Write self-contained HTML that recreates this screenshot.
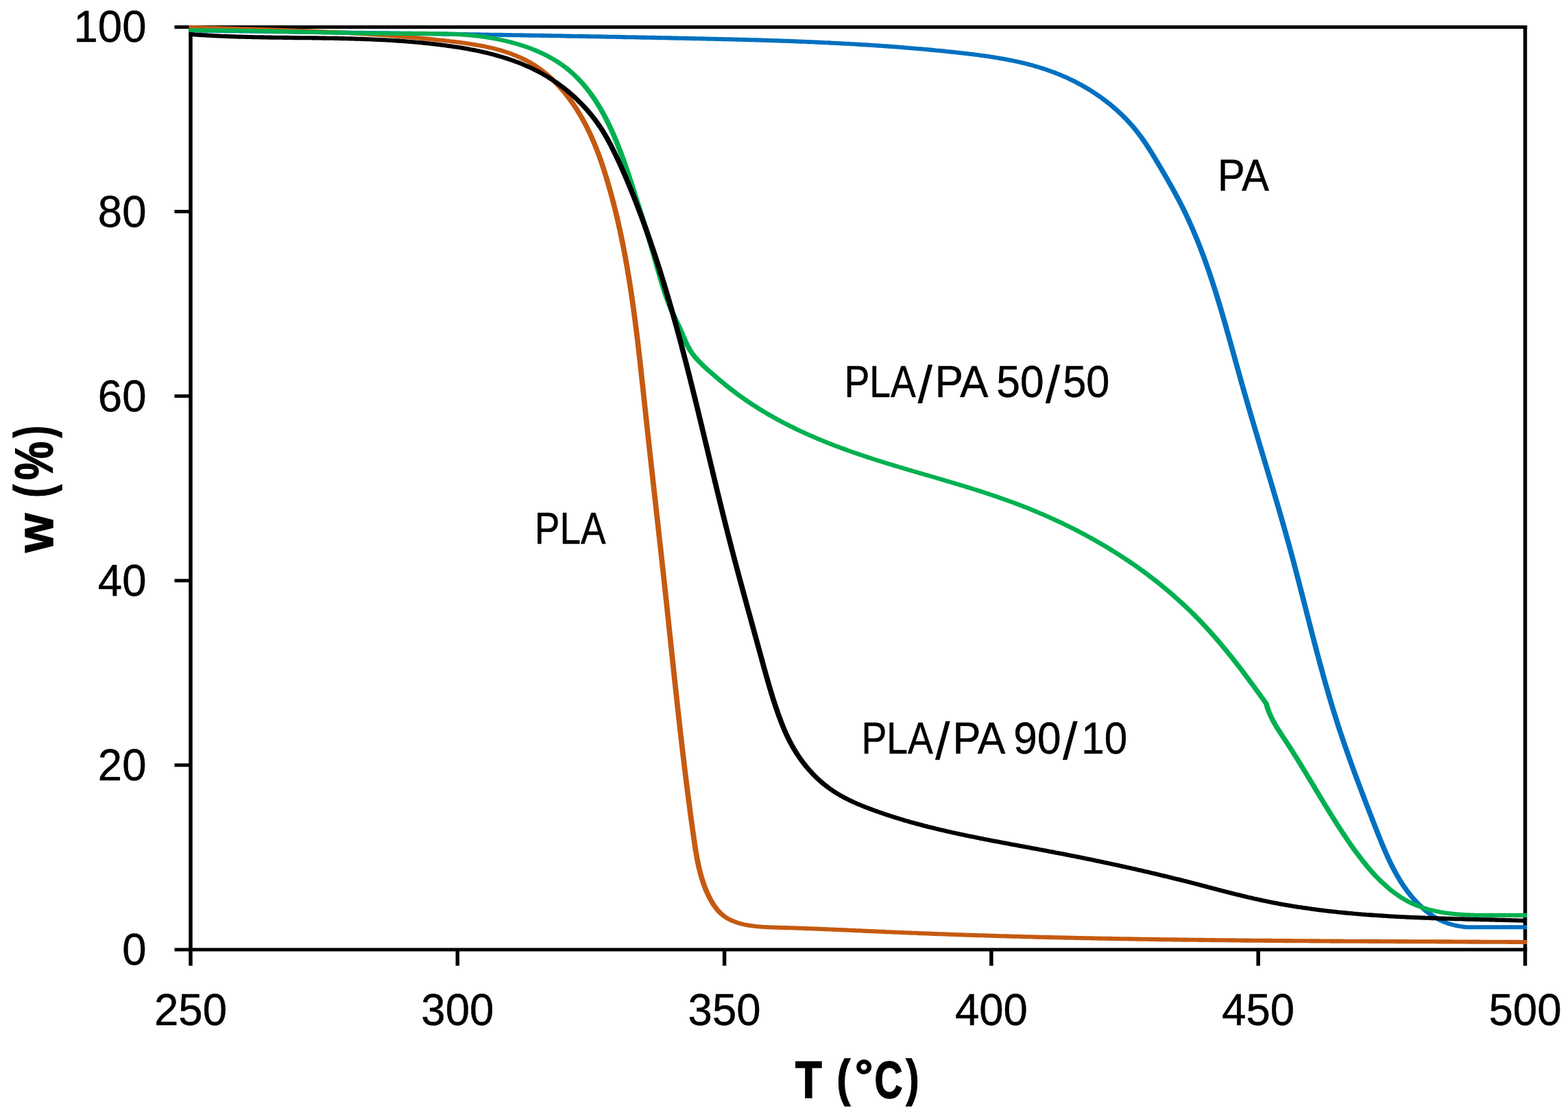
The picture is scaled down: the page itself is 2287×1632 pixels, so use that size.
<!DOCTYPE html>
<html lang="en">
<head>
<meta charset="utf-8">
<title>TGA curves: w (%) vs T (°C)</title>
<style>
html,body{margin:0;padding:0;background:#fff;}
body{width:2287px;height:1632px;overflow:hidden;}
svg{display:block;}
</style>
</head>
<body>
<svg xmlns="http://www.w3.org/2000/svg" width="2287" height="1632" viewBox="0 0 2287 1632" style="display:block">
<rect x="0" y="0" width="2287" height="1632" fill="#ffffff"/>
<g stroke="#000" fill="none" stroke-linecap="butt">
<g stroke-width="5.0">
<line x1="254.5" y1="39.5" x2="2227.25" y2="39.5"/>
<line x1="254.5" y1="1385.0" x2="2227.25" y2="1385.0"/>
<line x1="254.5" y1="1115.9" x2="278.0" y2="1115.9"/>
<line x1="254.5" y1="846.8" x2="278.0" y2="846.8"/>
<line x1="254.5" y1="577.7" x2="278.0" y2="577.7"/>
<line x1="254.5" y1="308.6" x2="278.0" y2="308.6"/>
</g>
<g stroke-width="5.5">
<line x1="278.0" y1="37.00" x2="278.0" y2="1408.5"/>
<line x1="2224.5" y1="37.00" x2="2224.5" y2="1408.5"/>
<line x1="667.3" y1="1385.0" x2="667.3" y2="1408.5"/>
<line x1="1056.6" y1="1385.0" x2="1056.6" y2="1408.5"/>
<line x1="1445.9" y1="1385.0" x2="1445.9" y2="1408.5"/>
<line x1="1835.2" y1="1385.0" x2="1835.2" y2="1408.5"/>
</g>
</g>
<g fill="none" stroke-width="6.1" stroke-linejoin="round" stroke-linecap="butt" transform="scale(1.28,1)">
<path stroke="#0070c0" d="M215.23,44.3 L217.58,44.3 L219.92,44.4 L222.27,44.4 L224.61,44.5 L226.96,44.5 L229.30,44.6 L231.65,44.6 L233.99,44.6 L236.34,44.7 L238.68,44.7 L241.03,44.8 L243.37,44.8 L245.72,44.9 L248.06,44.9 L250.41,44.9 L252.75,45.0 L255.10,45.0 L257.44,45.1 L259.79,45.1 L262.13,45.2 L264.48,45.2 L266.82,45.2 L269.17,45.3 L271.52,45.3 L273.86,45.4 L276.21,45.4 L278.55,45.5 L280.90,45.5 L283.25,45.5 L285.59,45.6 L287.94,45.6 L290.28,45.7 L292.63,45.7 L294.98,45.8 L297.32,45.8 L299.67,45.8 L302.01,45.9 L304.36,45.9 L306.71,46.0 L309.05,46.0 L311.40,46.0 L313.75,46.1 L316.09,46.1 L318.44,46.2 L320.79,46.2 L323.13,46.3 L325.48,46.3 L327.83,46.3 L330.17,46.4 L332.52,46.4 L334.87,46.5 L337.22,46.5 L339.56,46.6 L341.91,46.6 L344.26,46.6 L346.60,46.7 L348.95,46.7 L351.30,46.8 L353.65,46.8 L355.99,46.9 L358.34,46.9 L360.69,46.9 L363.03,47.0 L365.38,47.0 L367.73,47.1 L370.08,47.1 L372.42,47.1 L374.77,47.2 L377.12,47.2 L379.47,47.3 L381.81,47.3 L384.16,47.4 L386.51,47.4 L388.86,47.4 L391.21,47.5 L393.55,47.5 L395.90,47.6 L398.25,47.6 L400.60,47.7 L402.94,47.7 L405.29,47.7 L407.64,47.8 L409.99,47.8 L412.34,47.9 L414.68,47.9 L417.03,48.0 L419.38,48.0 L421.73,48.0 L424.08,48.1 L426.42,48.1 L428.77,48.2 L431.12,48.2 L433.47,48.3 L435.82,48.3 L438.16,48.3 L440.51,48.4 L442.86,48.4 L445.21,48.5 L447.56,48.5 L449.91,48.6 L452.25,48.6 L454.60,48.6 L456.95,48.7 L459.30,48.7 L461.65,48.8 L463.99,48.8 L466.34,48.9 L468.69,48.9 L471.04,49.0 L473.39,49.0 L475.74,49.0 L478.08,49.1 L480.43,49.1 L482.78,49.2 L485.13,49.2 L487.48,49.3 L489.83,49.3 L492.17,49.4 L494.52,49.4 L496.87,49.4 L499.22,49.5 L501.57,49.5 L503.92,49.6 L506.26,49.6 L508.61,49.7 L510.96,49.7 L513.31,49.8 L515.66,49.8 L518.01,49.9 L520.35,49.9 L522.70,49.9 L525.05,50.0 L527.40,50.0 L529.75,50.1 L532.10,50.1 L534.44,50.2 L536.79,50.2 L539.14,50.3 L541.49,50.3 L543.84,50.4 L546.18,50.4 L548.53,50.5 L550.88,50.5 L553.23,50.6 L555.58,50.6 L557.93,50.7 L560.27,50.7 L562.62,50.7 L564.97,50.8 L567.32,50.8 L569.67,50.9 L572.01,50.9 L574.36,51.0 L576.71,51.0 L579.06,51.1 L581.41,51.1 L583.75,51.2 L586.10,51.2 L588.45,51.3 L590.80,51.3 L593.15,51.4 L595.49,51.4 L597.84,51.5 L600.19,51.5 L602.54,51.6 L604.89,51.6 L607.23,51.7 L609.58,51.7 L611.93,51.8 L614.28,51.8 L616.62,51.9 L618.97,51.9 L621.32,52.0 L623.67,52.0 L626.01,52.1 L628.36,52.1 L630.71,52.2 L633.06,52.2 L635.40,52.3 L637.75,52.3 L640.10,52.4 L642.45,52.5 L644.79,52.5 L647.14,52.6 L649.49,52.6 L651.84,52.7 L654.18,52.7 L656.53,52.8 L658.88,52.8 L661.22,52.9 L663.57,52.9 L665.92,53.0 L668.26,53.0 L670.61,53.1 L672.96,53.2 L675.31,53.2 L677.65,53.3 L680.00,53.3 L682.35,53.4 L684.69,53.4 L687.04,53.5 L689.39,53.5 L691.73,53.6 L694.08,53.7 L696.42,53.7 L698.77,53.8 L701.12,53.8 L703.46,53.9 L705.81,53.9 L708.16,54.0 L710.50,54.1 L712.85,54.1 L715.19,54.2 L717.54,54.2 L719.89,54.3 L722.23,54.3 L724.58,54.4 L726.92,54.5 L729.27,54.5 L731.62,54.6 L733.96,54.6 L736.31,54.7 L738.65,54.8 L741.00,54.8 L743.34,54.9 L745.69,54.9 L748.03,55.0 L750.38,55.1 L752.72,55.1 L755.07,55.2 L757.41,55.2 L759.76,55.3 L762.10,55.4 L764.45,55.4 L766.79,55.5 L769.14,55.6 L771.48,55.6 L773.83,55.7 L776.17,55.8 L778.52,55.8 L780.86,55.9 L783.21,55.9 L785.55,56.0 L787.90,56.1 L790.24,56.1 L792.58,56.2 L794.93,56.3 L797.27,56.3 L799.62,56.4 L801.96,56.5 L804.30,56.5 L806.65,56.6 L808.99,56.7 L811.34,56.7 L813.68,56.8 L816.02,56.9 L818.37,57.0 L820.71,57.0 L823.05,57.1 L825.40,57.2 L827.74,57.2 L830.08,57.3 L832.43,57.4 L834.77,57.5 L837.11,57.5 L839.46,57.6 L841.80,57.7 L844.14,57.8 L846.49,57.9 L848.83,57.9 L851.17,58.0 L853.51,58.1 L855.86,58.2 L858.20,58.3 L860.54,58.4 L862.89,58.4 L865.23,58.5 L867.57,58.6 L869.92,58.7 L872.26,58.8 L874.60,58.9 L876.94,59.0 L879.29,59.1 L881.63,59.2 L883.97,59.3 L886.31,59.4 L888.66,59.5 L891.00,59.6 L893.34,59.7 L895.68,59.8 L898.03,59.9 L900.37,60.0 L902.71,60.1 L905.06,60.3 L907.40,60.4 L909.74,60.5 L912.08,60.6 L914.43,60.7 L916.77,60.8 L919.11,61.0 L921.45,61.1 L923.80,61.2 L926.14,61.3 L928.48,61.5 L930.82,61.6 L933.17,61.7 L935.51,61.9 L937.85,62.0 L940.19,62.2 L942.54,62.3 L944.88,62.4 L947.22,62.6 L949.57,62.7 L951.91,62.9 L954.25,63.0 L956.59,63.2 L958.94,63.4 L961.28,63.5 L963.62,63.7 L965.96,63.8 L968.31,64.0 L970.65,64.2 L972.99,64.3 L975.34,64.5 L977.68,64.7 L980.02,64.9 L982.37,65.1 L984.71,65.2 L987.05,65.4 L989.39,65.6 L991.74,65.8 L994.08,66.0 L996.42,66.2 L998.77,66.4 L1001.11,66.6 L1003.45,66.8 L1005.80,67.0 L1008.14,67.2 L1010.48,67.4 L1012.83,67.6 L1015.17,67.9 L1017.52,68.1 L1019.86,68.3 L1022.20,68.5 L1024.55,68.8 L1026.89,69.0 L1029.23,69.2 L1031.58,69.5 L1033.92,69.7 L1036.27,70.0 L1038.61,70.2 L1040.96,70.5 L1043.30,70.7 L1045.64,71.0 L1047.99,71.2 L1050.33,71.5 L1052.68,71.8 L1055.02,72.0 L1057.37,72.3 L1059.71,72.6 L1062.06,72.9 L1064.40,73.2 L1066.75,73.5 L1069.09,73.7 L1071.44,74.0 L1073.78,74.3 L1076.13,74.6 L1078.47,75.0 L1080.82,75.3 L1083.16,75.6 L1085.51,75.9 L1087.85,76.2 L1090.20,76.5 L1092.55,76.9 L1094.89,77.2 L1097.24,77.5 L1099.58,77.9 L1101.93,78.2 L1104.27,78.6 L1106.61,78.9 L1108.96,79.3 L1111.30,79.7 L1113.64,80.1 L1115.98,80.5 L1118.31,80.9 L1120.65,81.3 L1122.98,81.7 L1125.32,82.1 L1127.65,82.6 L1129.97,83.0 L1132.30,83.5 L1134.62,84.0 L1136.94,84.4 L1139.26,85.0 L1141.57,85.5 L1143.89,86.0 L1146.19,86.5 L1148.50,87.1 L1150.80,87.7 L1153.10,88.3 L1155.39,88.9 L1157.68,89.5 L1159.97,90.1 L1162.25,90.8 L1164.53,91.5 L1166.80,92.2 L1169.07,92.9 L1171.33,93.6 L1173.59,94.4 L1175.85,95.2 L1178.10,96.0 L1180.34,96.8 L1182.58,97.6 L1184.81,98.5 L1187.04,99.4 L1189.26,100.3 L1191.47,101.2 L1193.68,102.2 L1195.88,103.2 L1198.08,104.2 L1200.27,105.2 L1202.45,106.3 L1204.62,107.4 L1206.79,108.5 L1208.95,109.6 L1211.10,110.8 L1213.25,112.0 L1215.39,113.2 L1217.52,114.5 L1219.63,115.8 L1221.75,117.1 L1223.85,118.4 L1225.94,119.8 L1228.02,121.2 L1230.09,122.6 L1232.15,124.0 L1234.20,125.5 L1236.23,127.0 L1238.26,128.5 L1240.27,130.0 L1242.27,131.6 L1244.26,133.2 L1246.23,134.8 L1248.19,136.5 L1250.14,138.2 L1252.07,139.9 L1253.99,141.6 L1255.89,143.4 L1257.78,145.2 L1259.66,147.0 L1261.51,148.8 L1263.36,150.7 L1265.18,152.5 L1266.99,154.5 L1268.78,156.4 L1270.56,158.4 L1272.31,160.3 L1274.05,162.4 L1275.77,164.4 L1277.47,166.5 L1279.16,168.5 L1280.82,170.7 L1282.46,172.8 L1284.09,175.0 L1285.69,177.1 L1287.27,179.4 L1288.84,181.6 L1290.38,183.8 L1291.90,186.1 L1293.40,188.4 L1294.87,190.8 L1296.32,193.1 L1297.75,195.5 L1299.16,197.9 L1300.55,200.3 L1301.92,202.8 L1303.27,205.3 L1304.60,207.7 L1305.92,210.2 L1307.22,212.8 L1308.50,215.3 L1309.78,217.8 L1311.04,220.4 L1312.29,223.0 L1313.53,225.5 L1314.76,228.1 L1315.99,230.7 L1317.20,233.3 L1318.42,235.9 L1319.63,238.5 L1320.83,241.1 L1322.04,243.7 L1323.24,246.3 L1324.43,248.9 L1325.63,251.5 L1326.82,254.1 L1328.00,256.7 L1329.18,259.3 L1330.36,261.9 L1331.52,264.5 L1332.69,267.2 L1333.84,269.8 L1334.99,272.4 L1336.14,275.0 L1337.27,277.7 L1338.40,280.3 L1339.52,282.9 L1340.63,285.6 L1341.74,288.2 L1342.83,290.9 L1343.92,293.5 L1344.99,296.2 L1346.06,298.9 L1347.11,301.5 L1348.16,304.2 L1349.19,306.9 L1350.21,309.6 L1351.22,312.3 L1352.22,315.0 L1353.22,317.7 L1354.20,320.4 L1355.17,323.1 L1356.13,325.9 L1357.08,328.6 L1358.02,331.3 L1358.96,334.1 L1359.88,336.8 L1360.80,339.5 L1361.70,342.3 L1362.60,345.1 L1363.49,347.8 L1364.37,350.6 L1365.24,353.4 L1366.10,356.1 L1366.96,358.9 L1367.80,361.7 L1368.64,364.5 L1369.47,367.3 L1370.30,370.1 L1371.11,372.9 L1371.92,375.7 L1372.73,378.5 L1373.52,381.3 L1374.31,384.1 L1375.09,386.9 L1375.87,389.8 L1376.64,392.6 L1377.40,395.4 L1378.16,398.3 L1378.91,401.1 L1379.65,403.9 L1380.39,406.8 L1381.12,409.6 L1381.85,412.5 L1382.57,415.3 L1383.29,418.2 L1384.01,421.0 L1384.71,423.9 L1385.42,426.8 L1386.12,429.6 L1386.81,432.5 L1387.50,435.4 L1388.19,438.2 L1388.87,441.1 L1389.54,444.0 L1390.22,446.9 L1390.89,449.7 L1391.56,452.6 L1392.22,455.5 L1392.88,458.4 L1393.54,461.3 L1394.19,464.2 L1394.85,467.1 L1395.50,469.9 L1396.14,472.8 L1396.79,475.7 L1397.43,478.6 L1398.07,481.5 L1398.71,484.4 L1399.35,487.3 L1399.98,490.2 L1400.62,493.1 L1401.25,496.0 L1401.88,498.9 L1402.51,501.8 L1403.14,504.7 L1403.77,507.6 L1404.40,510.5 L1405.03,513.4 L1405.65,516.3 L1406.28,519.2 L1406.91,522.1 L1407.54,525.0 L1408.16,527.9 L1408.79,530.8 L1409.42,533.7 L1410.05,536.6 L1410.68,539.5 L1411.31,542.4 L1411.94,545.3 L1412.58,548.2 L1413.21,551.1 L1413.85,554.0 L1414.48,556.9 L1415.12,559.8 L1415.77,562.7 L1416.41,565.6 L1417.05,568.5 L1417.70,571.4 L1418.35,574.2 L1419.00,577.1 L1419.65,580.0 L1420.30,582.9 L1420.95,585.8 L1421.61,588.7 L1422.26,591.6 L1422.92,594.4 L1423.58,597.3 L1424.24,600.2 L1424.90,603.1 L1425.56,606.0 L1426.22,608.8 L1426.88,611.7 L1427.55,614.6 L1428.21,617.5 L1428.88,620.4 L1429.55,623.2 L1430.21,626.1 L1430.88,629.0 L1431.55,631.9 L1432.22,634.7 L1432.89,637.6 L1433.56,640.5 L1434.23,643.4 L1434.90,646.2 L1435.57,649.1 L1436.24,652.0 L1436.91,654.9 L1437.58,657.7 L1438.25,660.6 L1438.92,663.5 L1439.60,666.4 L1440.27,669.2 L1440.94,672.1 L1441.61,675.0 L1442.28,677.8 L1442.95,680.7 L1443.62,683.6 L1444.29,686.5 L1444.96,689.3 L1445.63,692.2 L1446.30,695.1 L1446.97,698.0 L1447.64,700.8 L1448.30,703.7 L1448.97,706.6 L1449.63,709.5 L1450.30,712.3 L1450.96,715.2 L1451.63,718.1 L1452.29,721.0 L1452.95,723.8 L1453.61,726.7 L1454.27,729.6 L1454.93,732.5 L1455.58,735.3 L1456.24,738.2 L1456.90,741.1 L1457.55,744.0 L1458.20,746.9 L1458.85,749.7 L1459.50,752.6 L1460.15,755.5 L1460.79,758.4 L1461.44,761.3 L1462.08,764.2 L1462.72,767.0 L1463.36,769.9 L1464.00,772.8 L1464.63,775.7 L1465.27,778.6 L1465.90,781.5 L1466.53,784.4 L1467.16,787.3 L1467.78,790.2 L1468.41,793.1 L1469.03,795.9 L1469.65,798.8 L1470.27,801.7 L1470.88,804.6 L1471.49,807.5 L1472.10,810.4 L1472.71,813.3 L1473.32,816.2 L1473.92,819.1 L1474.53,822.1 L1475.13,825.0 L1475.73,827.9 L1476.32,830.8 L1476.92,833.7 L1477.52,836.6 L1478.11,839.5 L1478.70,842.4 L1479.29,845.3 L1479.88,848.2 L1480.47,851.1 L1481.06,854.0 L1481.65,857.0 L1482.23,859.9 L1482.82,862.8 L1483.40,865.7 L1483.99,868.6 L1484.57,871.5 L1485.15,874.4 L1485.74,877.4 L1486.32,880.3 L1486.90,883.2 L1487.49,886.1 L1488.07,889.0 L1488.65,891.9 L1489.23,894.8 L1489.82,897.8 L1490.40,900.7 L1490.98,903.6 L1491.57,906.5 L1492.15,909.4 L1492.74,912.3 L1493.32,915.2 L1493.91,918.1 L1494.50,921.1 L1495.09,924.0 L1495.67,926.9 L1496.27,929.8 L1496.86,932.7 L1497.45,935.6 L1498.04,938.5 L1498.64,941.4 L1499.24,944.3 L1499.84,947.3 L1500.44,950.2 L1501.04,953.1 L1501.64,956.0 L1502.25,958.9 L1502.86,961.8 L1503.47,964.7 L1504.08,967.6 L1504.69,970.5 L1505.31,973.4 L1505.93,976.3 L1506.55,979.2 L1507.17,982.1 L1507.80,985.0 L1508.43,987.9 L1509.06,990.8 L1509.69,993.6 L1510.33,996.5 L1510.97,999.4 L1511.61,1002.3 L1512.26,1005.2 L1512.91,1008.1 L1513.56,1011.0 L1514.22,1013.8 L1514.88,1016.7 L1515.54,1019.6 L1516.21,1022.5 L1516.88,1025.4 L1517.55,1028.2 L1518.23,1031.1 L1518.91,1034.0 L1519.60,1036.8 L1520.29,1039.7 L1520.98,1042.6 L1521.68,1045.4 L1522.38,1048.3 L1523.09,1051.1 L1523.80,1054.0 L1524.52,1056.8 L1525.24,1059.7 L1525.96,1062.5 L1526.69,1065.4 L1527.43,1068.2 L1528.17,1071.1 L1528.91,1073.9 L1529.65,1076.8 L1530.41,1079.6 L1531.16,1082.4 L1531.92,1085.3 L1532.68,1088.1 L1533.45,1090.9 L1534.22,1093.8 L1534.99,1096.6 L1535.77,1099.4 L1536.55,1102.2 L1537.33,1105.1 L1538.12,1107.9 L1538.91,1110.7 L1539.70,1113.5 L1540.50,1116.4 L1541.30,1119.2 L1542.10,1122.0 L1542.90,1124.8 L1543.71,1127.6 L1544.52,1130.4 L1545.34,1133.2 L1546.15,1136.1 L1546.97,1138.9 L1547.79,1141.7 L1548.61,1144.5 L1549.44,1147.3 L1550.27,1150.1 L1551.10,1152.9 L1551.93,1155.7 L1552.77,1158.5 L1553.60,1161.3 L1554.44,1164.2 L1555.28,1167.0 L1556.12,1169.8 L1556.96,1172.6 L1557.81,1175.4 L1558.66,1178.2 L1559.50,1181.0 L1560.35,1183.8 L1561.20,1186.6 L1562.06,1189.4 L1562.91,1192.2 L1563.76,1195.0 L1564.62,1197.8 L1565.47,1200.6 L1566.33,1203.5 L1567.19,1206.3 L1568.05,1209.1 L1568.91,1211.9 L1569.77,1214.7 L1570.63,1217.5 L1571.50,1220.3 L1572.38,1223.1 L1573.26,1225.9 L1574.15,1228.7 L1575.04,1231.5 L1575.95,1234.3 L1576.86,1237.0 L1577.78,1239.8 L1578.72,1242.6 L1579.67,1245.3 L1580.63,1248.1 L1581.60,1250.8 L1582.59,1253.6 L1583.59,1256.3 L1584.62,1259.0 L1585.65,1261.7 L1586.71,1264.4 L1587.79,1267.0 L1588.88,1269.7 L1590.00,1272.3 L1591.14,1274.9 L1592.30,1277.5 L1593.49,1280.1 L1594.70,1282.7 L1595.94,1285.3 L1597.20,1287.8 L1598.49,1290.3 L1599.81,1292.8 L1601.15,1295.3 L1602.53,1297.8 L1603.94,1300.2 L1605.37,1302.6 L1606.83,1305.0 L1608.33,1307.3 L1609.85,1309.6 L1611.40,1311.9 L1612.98,1314.1 L1614.59,1316.3 L1616.23,1318.5 L1617.90,1320.6 L1619.60,1322.6 L1621.33,1324.6 L1623.08,1326.6 L1624.86,1328.5 L1626.68,1330.3 L1628.52,1332.1 L1630.39,1333.8 L1632.29,1335.5 L1634.21,1337.1 L1636.17,1338.6 L1638.15,1340.0 L1640.17,1341.4 L1642.21,1342.7 L1644.28,1343.9 L1646.37,1345.0 L1648.50,1346.1 L1650.65,1347.0 L1652.84,1347.9 L1655.04,1348.7 L1657.28,1349.4 L1659.53,1350.0 L1661.81,1350.6 L1664.11,1351.1 L1666.43,1351.5 L1668.77,1351.9 L1671.12,1352.2 L1673.49,1352.3 L1675.87,1352.3 L1678.26,1352.3 L1680.67,1352.3 L1683.08,1352.3 L1685.50,1352.3 L1687.92,1352.3 L1690.36,1352.3 L1692.79,1352.3 L1695.22,1352.3 L1697.66,1352.3 L1700.09,1352.3 L1702.52,1352.3 L1704.95,1352.3 L1707.37,1352.3 L1709.79,1352.3 L1712.19,1352.3 L1714.59,1352.3 L1716.97,1352.3 L1719.34,1352.3 L1721.70,1352.3 L1724.04,1352.3 L1726.36,1352.3 L1728.66,1352.3 L1730.94,1352.3 L1733.21,1352.3 L1735.44,1352.3 L1737.66,1352.3 L1739.84,1352.3"/>
<path stroke="#c55a11" d="M215.23,39.8 L217.61,39.9 L219.99,40.0 L222.36,40.1 L224.73,40.2 L227.11,40.3 L229.48,40.4 L231.84,40.5 L234.21,40.6 L236.58,40.7 L238.94,40.8 L241.31,40.8 L243.67,40.9 L246.03,41.0 L248.39,41.1 L250.75,41.2 L253.11,41.3 L255.46,41.4 L257.82,41.5 L260.18,41.6 L262.53,41.6 L264.88,41.7 L267.23,41.8 L269.58,41.9 L271.93,42.0 L274.28,42.1 L276.63,42.2 L278.98,42.3 L281.32,42.4 L283.67,42.4 L286.01,42.5 L288.36,42.6 L290.70,42.7 L293.04,42.8 L295.38,42.9 L297.72,43.0 L300.06,43.1 L302.40,43.2 L304.74,43.3 L307.08,43.4 L309.42,43.5 L311.75,43.6 L314.09,43.7 L316.42,43.8 L318.76,43.9 L321.09,44.0 L323.43,44.1 L325.76,44.2 L328.10,44.3 L330.43,44.4 L332.76,44.5 L335.09,44.6 L337.43,44.7 L339.76,44.8 L342.09,44.9 L344.42,45.0 L346.75,45.1 L349.08,45.3 L351.41,45.4 L353.74,45.5 L356.07,45.6 L358.40,45.7 L360.73,45.9 L363.06,46.0 L365.39,46.1 L367.72,46.3 L370.05,46.4 L372.38,46.5 L374.71,46.7 L377.04,46.8 L379.37,46.9 L381.70,47.1 L384.03,47.2 L386.36,47.4 L388.69,47.5 L391.02,47.7 L393.35,47.8 L395.68,48.0 L398.01,48.2 L400.35,48.3 L402.68,48.5 L405.01,48.7 L407.34,48.8 L409.67,49.0 L412.01,49.2 L414.34,49.4 L416.68,49.5 L419.01,49.7 L421.34,49.9 L423.68,50.1 L426.02,50.3 L428.35,50.5 L430.69,50.7 L433.03,50.9 L435.36,51.1 L437.70,51.3 L440.04,51.5 L442.38,51.8 L444.72,52.0 L447.06,52.2 L449.41,52.4 L451.75,52.7 L454.09,52.9 L456.44,53.1 L458.78,53.4 L461.13,53.6 L463.48,53.9 L465.82,54.1 L468.17,54.4 L470.52,54.7 L472.87,54.9 L475.23,55.2 L477.58,55.5 L479.93,55.8 L482.29,56.1 L484.64,56.3 L487.00,56.6 L489.36,56.9 L491.72,57.2 L494.08,57.5 L496.44,57.9 L498.80,58.2 L501.16,58.5 L503.53,58.8 L505.90,59.1 L508.26,59.5 L510.63,59.8 L513.00,60.2 L515.37,60.5 L517.74,60.9 L520.11,61.2 L522.48,61.6 L524.84,62.0 L527.21,62.4 L529.57,62.8 L531.93,63.3 L534.28,63.7 L536.63,64.2 L538.98,64.7 L541.32,65.2 L543.66,65.7 L545.99,66.2 L548.31,66.8 L550.63,67.3 L552.94,67.9 L555.24,68.6 L557.53,69.2 L559.82,69.9 L562.09,70.6 L564.36,71.3 L566.61,72.1 L568.86,72.9 L571.09,73.7 L573.31,74.6 L575.53,75.5 L577.72,76.4 L579.91,77.3 L582.08,78.3 L584.24,79.4 L586.38,80.4 L588.51,81.6 L590.62,82.7 L592.72,83.9 L594.80,85.1 L596.86,86.4 L598.91,87.7 L600.94,89.1 L602.95,90.5 L604.94,92.0 L606.91,93.5 L608.87,95.0 L610.80,96.6 L612.71,98.3 L614.60,100.0 L616.48,101.8 L618.33,103.6 L620.16,105.4 L621.96,107.3 L623.75,109.2 L625.52,111.2 L627.26,113.2 L628.99,115.3 L630.69,117.4 L632.37,119.5 L634.03,121.7 L635.67,123.9 L637.28,126.1 L638.87,128.4 L640.44,130.7 L641.99,133.0 L643.52,135.4 L645.02,137.7 L646.50,140.1 L647.95,142.6 L649.39,145.0 L650.80,147.5 L652.18,150.0 L653.55,152.5 L654.89,155.1 L656.20,157.6 L657.50,160.2 L658.76,162.8 L660.01,165.4 L661.23,168.0 L662.43,170.6 L663.60,173.2 L664.75,175.9 L665.88,178.5 L666.98,181.2 L668.07,183.9 L669.13,186.6 L670.18,189.3 L671.20,192.0 L672.20,194.7 L673.19,197.4 L674.16,200.2 L675.10,202.9 L676.03,205.7 L676.95,208.4 L677.84,211.2 L678.72,214.0 L679.59,216.8 L680.44,219.6 L681.27,222.4 L682.09,225.2 L682.90,228.0 L683.69,230.8 L684.47,233.6 L685.23,236.4 L685.99,239.3 L686.73,242.1 L687.46,245.0 L688.18,247.8 L688.89,250.7 L689.59,253.5 L690.29,256.4 L690.97,259.3 L691.64,262.1 L692.31,265.0 L692.97,267.9 L693.62,270.7 L694.26,273.6 L694.90,276.5 L695.53,279.4 L696.15,282.3 L696.76,285.1 L697.37,288.0 L697.97,290.9 L698.56,293.8 L699.15,296.7 L699.72,299.6 L700.30,302.5 L700.86,305.4 L701.42,308.3 L701.97,311.2 L702.52,314.1 L703.06,317.0 L703.59,319.9 L704.12,322.9 L704.64,325.8 L705.15,328.7 L705.66,331.6 L706.16,334.5 L706.66,337.5 L707.15,340.4 L707.63,343.3 L708.11,346.2 L708.58,349.2 L709.05,352.1 L709.51,355.0 L709.97,358.0 L710.42,360.9 L710.87,363.9 L711.31,366.8 L711.74,369.7 L712.17,372.7 L712.60,375.6 L713.02,378.6 L713.43,381.5 L713.84,384.5 L714.25,387.4 L714.65,390.4 L715.05,393.4 L715.44,396.3 L715.82,399.3 L716.21,402.2 L716.59,405.2 L716.96,408.2 L717.33,411.1 L717.70,414.1 L718.06,417.0 L718.42,420.0 L718.77,423.0 L719.12,426.0 L719.47,428.9 L719.81,431.9 L720.15,434.9 L720.49,437.8 L720.82,440.8 L721.15,443.8 L721.48,446.8 L721.80,449.7 L722.12,452.7 L722.44,455.7 L722.75,458.7 L723.06,461.7 L723.37,464.7 L723.67,467.6 L723.97,470.6 L724.27,473.6 L724.57,476.6 L724.86,479.6 L725.15,482.6 L725.44,485.6 L725.73,488.5 L726.02,491.5 L726.30,494.5 L726.58,497.5 L726.86,500.5 L727.13,503.5 L727.41,506.5 L727.68,509.5 L727.95,512.5 L728.22,515.5 L728.49,518.5 L728.75,521.5 L729.02,524.5 L729.28,527.4 L729.54,530.4 L729.81,533.4 L730.06,536.4 L730.32,539.4 L730.58,542.4 L730.84,545.4 L731.09,548.4 L731.35,551.4 L731.60,554.4 L731.85,557.4 L732.11,560.4 L732.36,563.4 L732.61,566.4 L732.86,569.4 L733.11,572.4 L733.36,575.4 L733.61,578.4 L733.86,581.4 L734.11,584.4 L734.37,587.4 L734.62,590.4 L734.87,593.4 L735.12,596.4 L735.37,599.4 L735.62,602.4 L735.87,605.4 L736.12,608.4 L736.38,611.4 L736.63,614.3 L736.88,617.3 L737.14,620.3 L737.39,623.3 L737.65,626.3 L737.90,629.3 L738.16,632.3 L738.41,635.3 L738.67,638.3 L738.92,641.3 L739.18,644.3 L739.44,647.3 L739.69,650.3 L739.95,653.3 L740.21,656.2 L740.47,659.2 L740.72,662.2 L740.98,665.2 L741.24,668.2 L741.50,671.2 L741.76,674.2 L742.01,677.2 L742.27,680.2 L742.53,683.2 L742.79,686.1 L743.05,689.1 L743.31,692.1 L743.57,695.1 L743.83,698.1 L744.09,701.1 L744.35,704.1 L744.61,707.1 L744.87,710.1 L745.13,713.0 L745.39,716.0 L745.65,719.0 L745.91,722.0 L746.17,725.0 L746.43,728.0 L746.69,731.0 L746.95,733.9 L747.21,736.9 L747.47,739.9 L747.73,742.9 L747.99,745.9 L748.25,748.9 L748.51,751.9 L748.78,754.8 L749.04,757.8 L749.30,760.8 L749.56,763.8 L749.82,766.8 L750.07,769.8 L750.33,772.8 L750.59,775.7 L750.85,778.7 L751.11,781.7 L751.37,784.7 L751.63,787.7 L751.89,790.7 L752.15,793.6 L752.41,796.6 L752.66,799.6 L752.92,802.6 L753.18,805.6 L753.44,808.6 L753.70,811.5 L753.95,814.5 L754.21,817.5 L754.47,820.5 L754.72,823.5 L754.98,826.5 L755.23,829.4 L755.49,832.4 L755.75,835.4 L756.00,838.4 L756.25,841.4 L756.51,844.4 L756.76,847.3 L757.02,850.3 L757.27,853.3 L757.52,856.3 L757.77,859.3 L758.03,862.3 L758.28,865.2 L758.53,868.2 L758.78,871.2 L759.03,874.2 L759.28,877.2 L759.53,880.2 L759.78,883.1 L760.03,886.1 L760.28,889.1 L760.53,892.1 L760.77,895.1 L761.02,898.0 L761.27,901.0 L761.52,904.0 L761.76,907.0 L762.01,910.0 L762.26,913.0 L762.50,915.9 L762.75,918.9 L763.00,921.9 L763.24,924.9 L763.49,927.9 L763.74,930.9 L763.98,933.8 L764.23,936.8 L764.48,939.8 L764.72,942.8 L764.97,945.8 L765.21,948.7 L765.46,951.7 L765.71,954.7 L765.95,957.7 L766.20,960.7 L766.45,963.7 L766.70,966.6 L766.94,969.6 L767.19,972.6 L767.44,975.6 L767.69,978.6 L767.94,981.6 L768.18,984.5 L768.43,987.5 L768.68,990.5 L768.93,993.5 L769.18,996.5 L769.43,999.5 L769.68,1002.5 L769.94,1005.4 L770.19,1008.4 L770.44,1011.4 L770.69,1014.4 L770.95,1017.4 L771.20,1020.4 L771.45,1023.3 L771.71,1026.3 L771.96,1029.3 L772.22,1032.3 L772.48,1035.3 L772.73,1038.3 L772.99,1041.3 L773.25,1044.2 L773.51,1047.2 L773.77,1050.2 L774.03,1053.2 L774.29,1056.2 L774.56,1059.2 L774.82,1062.2 L775.08,1065.2 L775.35,1068.1 L775.62,1071.1 L775.88,1074.1 L776.15,1077.1 L776.42,1080.1 L776.69,1083.1 L776.96,1086.1 L777.23,1089.1 L777.50,1092.0 L777.78,1095.0 L778.05,1098.0 L778.33,1101.0 L778.60,1104.0 L778.88,1107.0 L779.16,1110.0 L779.44,1113.0 L779.72,1116.0 L780.00,1119.0 L780.28,1121.9 L780.57,1124.9 L780.86,1127.9 L781.14,1130.9 L781.43,1133.9 L781.72,1136.9 L782.01,1139.9 L782.30,1142.9 L782.60,1145.9 L782.89,1148.9 L783.19,1151.9 L783.49,1154.9 L783.78,1157.8 L784.09,1160.8 L784.39,1163.8 L784.69,1166.8 L785.00,1169.8 L785.30,1172.8 L785.61,1175.8 L785.92,1178.8 L786.23,1181.8 L786.54,1184.8 L786.86,1187.8 L787.17,1190.8 L787.49,1193.8 L787.81,1196.8 L788.13,1199.8 L788.45,1202.8 L788.78,1205.8 L789.10,1208.8 L789.43,1211.8 L789.76,1214.8 L790.09,1217.8 L790.43,1220.8 L790.76,1223.8 L791.10,1226.8 L791.45,1229.8 L791.80,1232.8 L792.15,1235.8 L792.52,1238.8 L792.90,1241.7 L793.29,1244.7 L793.70,1247.7 L794.11,1250.7 L794.55,1253.6 L795.00,1256.6 L795.48,1259.5 L795.97,1262.5 L796.49,1265.4 L797.03,1268.3 L797.59,1271.2 L798.19,1274.1 L798.81,1277.0 L799.46,1279.9 L800.14,1282.7 L800.85,1285.6 L801.60,1288.4 L802.38,1291.2 L803.20,1294.0 L804.06,1296.8 L804.95,1299.6 L805.89,1302.3 L806.87,1305.0 L807.90,1307.7 L808.97,1310.4 L810.09,1313.0 L811.26,1315.6 L812.48,1318.2 L813.76,1320.6 L815.10,1323.0 L816.49,1325.4 L817.95,1327.6 L819.47,1329.7 L821.05,1331.8 L822.71,1333.7 L824.43,1335.5 L826.23,1337.2 L828.09,1338.8 L830.03,1340.2 L832.02,1341.5 L834.07,1342.7 L836.17,1343.8 L838.30,1344.8 L840.48,1345.8 L842.68,1346.6 L844.91,1347.4 L847.16,1348.1 L849.42,1348.7 L851.71,1349.2 L854.01,1349.8 L856.32,1350.2 L858.65,1350.6 L860.99,1351.0 L863.35,1351.3 L865.71,1351.5 L868.08,1351.8 L870.46,1352.0 L872.85,1352.1 L875.24,1352.3 L877.64,1352.4 L880.04,1352.5 L882.45,1352.6 L884.85,1352.7 L887.26,1352.8 L889.66,1352.9 L892.06,1353.0 L894.46,1353.1 L896.85,1353.1 L899.25,1353.2 L901.64,1353.3 L904.02,1353.4 L906.41,1353.5 L908.79,1353.6 L911.17,1353.7 L913.55,1353.8 L915.93,1354.0 L918.31,1354.1 L920.68,1354.2 L923.05,1354.3 L925.42,1354.4 L927.79,1354.5 L930.15,1354.6 L932.52,1354.7 L934.88,1354.9 L937.24,1355.0 L939.60,1355.1 L941.96,1355.2 L944.31,1355.4 L946.67,1355.5 L949.02,1355.6 L951.37,1355.7 L953.72,1355.9 L956.07,1356.0 L958.42,1356.1 L960.77,1356.3 L963.11,1356.4 L965.46,1356.5 L967.80,1356.7 L970.15,1356.8 L972.49,1356.9 L974.83,1357.1 L977.17,1357.2 L979.51,1357.3 L981.85,1357.5 L984.19,1357.6 L986.53,1357.7 L988.87,1357.9 L991.20,1358.0 L993.54,1358.1 L995.88,1358.3 L998.21,1358.4 L1000.55,1358.5 L1002.89,1358.7 L1005.22,1358.8 L1007.56,1358.9 L1009.89,1359.1 L1012.23,1359.2 L1014.57,1359.3 L1016.90,1359.5 L1019.24,1359.6 L1021.58,1359.7 L1023.91,1359.8 L1026.25,1360.0 L1028.59,1360.1 L1030.92,1360.2 L1033.26,1360.3 L1035.60,1360.5 L1037.94,1360.6 L1040.27,1360.7 L1042.61,1360.8 L1044.95,1360.9 L1047.29,1361.1 L1049.63,1361.2 L1051.97,1361.3 L1054.30,1361.4 L1056.64,1361.5 L1058.98,1361.6 L1061.32,1361.8 L1063.66,1361.9 L1066.00,1362.0 L1068.34,1362.1 L1070.68,1362.2 L1073.02,1362.3 L1075.36,1362.4 L1077.70,1362.5 L1080.04,1362.6 L1082.38,1362.7 L1084.73,1362.9 L1087.07,1363.0 L1089.41,1363.1 L1091.75,1363.2 L1094.09,1363.3 L1096.43,1363.4 L1098.77,1363.5 L1101.12,1363.6 L1103.46,1363.7 L1105.80,1363.8 L1108.14,1363.9 L1110.49,1364.0 L1112.83,1364.1 L1115.17,1364.2 L1117.51,1364.2 L1119.86,1364.3 L1122.20,1364.4 L1124.54,1364.5 L1126.89,1364.6 L1129.23,1364.7 L1131.58,1364.8 L1133.92,1364.9 L1136.26,1365.0 L1138.61,1365.1 L1140.95,1365.2 L1143.30,1365.2 L1145.64,1365.3 L1147.99,1365.4 L1150.33,1365.5 L1152.68,1365.6 L1155.02,1365.7 L1157.37,1365.8 L1159.71,1365.8 L1162.06,1365.9 L1164.40,1366.0 L1166.75,1366.1 L1169.09,1366.2 L1171.44,1366.2 L1173.79,1366.3 L1176.13,1366.4 L1178.48,1366.5 L1180.82,1366.6 L1183.17,1366.6 L1185.52,1366.7 L1187.86,1366.8 L1190.21,1366.9 L1192.56,1366.9 L1194.90,1367.0 L1197.25,1367.1 L1199.60,1367.1 L1201.95,1367.2 L1204.29,1367.3 L1206.64,1367.4 L1208.99,1367.4 L1211.34,1367.5 L1213.68,1367.6 L1216.03,1367.6 L1218.38,1367.7 L1220.73,1367.8 L1223.08,1367.8 L1225.42,1367.9 L1227.77,1368.0 L1230.12,1368.0 L1232.47,1368.1 L1234.82,1368.1 L1237.17,1368.2 L1239.51,1368.3 L1241.86,1368.3 L1244.21,1368.4 L1246.56,1368.5 L1248.91,1368.5 L1251.26,1368.6 L1253.61,1368.6 L1255.96,1368.7 L1258.31,1368.7 L1260.66,1368.8 L1263.00,1368.9 L1265.35,1368.9 L1267.70,1369.0 L1270.05,1369.0 L1272.40,1369.1 L1274.75,1369.1 L1277.10,1369.2 L1279.45,1369.2 L1281.80,1369.3 L1284.15,1369.3 L1286.50,1369.4 L1288.85,1369.4 L1291.20,1369.5 L1293.55,1369.5 L1295.90,1369.6 L1298.25,1369.6 L1300.60,1369.7 L1302.95,1369.7 L1305.31,1369.8 L1307.66,1369.8 L1310.01,1369.9 L1312.36,1369.9 L1314.71,1370.0 L1317.06,1370.0 L1319.41,1370.1 L1321.76,1370.1 L1324.11,1370.2 L1326.46,1370.2 L1328.81,1370.2 L1331.16,1370.3 L1333.51,1370.3 L1335.87,1370.4 L1338.22,1370.4 L1340.57,1370.4 L1342.92,1370.5 L1345.27,1370.5 L1347.62,1370.6 L1349.97,1370.6 L1352.32,1370.6 L1354.68,1370.7 L1357.03,1370.7 L1359.38,1370.8 L1361.73,1370.8 L1364.08,1370.8 L1366.43,1370.9 L1368.78,1370.9 L1371.14,1370.9 L1373.49,1371.0 L1375.84,1371.0 L1378.19,1371.0 L1380.54,1371.1 L1382.89,1371.1 L1385.24,1371.1 L1387.60,1371.2 L1389.95,1371.2 L1392.30,1371.2 L1394.65,1371.3 L1397.00,1371.3 L1399.35,1371.3 L1401.71,1371.4 L1404.06,1371.4 L1406.41,1371.4 L1408.76,1371.5 L1411.11,1371.5 L1413.46,1371.5 L1415.82,1371.6 L1418.17,1371.6 L1420.52,1371.6 L1422.87,1371.6 L1425.22,1371.7 L1427.57,1371.7 L1429.93,1371.7 L1432.28,1371.7 L1434.63,1371.8 L1436.98,1371.8 L1439.33,1371.8 L1441.68,1371.9 L1444.03,1371.9 L1446.39,1371.9 L1448.74,1371.9 L1451.09,1372.0 L1453.44,1372.0 L1455.79,1372.0 L1458.14,1372.0 L1460.49,1372.0 L1462.85,1372.1 L1465.20,1372.1 L1467.55,1372.1 L1469.90,1372.1 L1472.25,1372.2 L1474.60,1372.2 L1476.95,1372.2 L1479.31,1372.2 L1481.66,1372.3 L1484.01,1372.3 L1486.36,1372.3 L1488.71,1372.3 L1491.06,1372.3 L1493.41,1372.4 L1495.76,1372.4 L1498.11,1372.4 L1500.46,1372.4 L1502.82,1372.4 L1505.17,1372.5 L1507.52,1372.5 L1509.87,1372.5 L1512.22,1372.5 L1514.57,1372.5 L1516.92,1372.6 L1519.27,1372.6 L1521.62,1372.6 L1523.97,1372.6 L1526.32,1372.6 L1528.67,1372.6 L1531.02,1372.7 L1533.37,1372.7 L1535.72,1372.7 L1538.07,1372.7 L1540.42,1372.7 L1542.77,1372.7 L1545.12,1372.8 L1547.47,1372.8 L1549.82,1372.8 L1552.17,1372.8 L1554.52,1372.8 L1556.87,1372.8 L1559.22,1372.9 L1561.57,1372.9 L1563.92,1372.9 L1566.27,1372.9 L1568.62,1372.9 L1570.97,1372.9 L1573.32,1373.0 L1575.66,1373.0 L1578.01,1373.0 L1580.36,1373.0 L1582.71,1373.0 L1585.06,1373.0 L1587.41,1373.0 L1589.76,1373.1 L1592.11,1373.1 L1594.45,1373.1 L1596.80,1373.1 L1599.15,1373.1 L1601.50,1373.1 L1603.85,1373.1 L1606.19,1373.2 L1608.54,1373.2 L1610.89,1373.2 L1613.24,1373.2 L1615.59,1373.2 L1617.93,1373.2 L1620.28,1373.2 L1622.63,1373.3 L1624.97,1373.3 L1627.32,1373.3 L1629.67,1373.3 L1632.02,1373.3 L1634.36,1373.3 L1636.71,1373.3 L1639.06,1373.4 L1641.40,1373.4 L1643.75,1373.4 L1646.09,1373.4 L1648.44,1373.4 L1650.79,1373.4 L1653.13,1373.4 L1655.48,1373.5 L1657.82,1373.5 L1660.17,1373.5 L1662.52,1373.5 L1664.86,1373.5 L1667.21,1373.5 L1669.55,1373.5 L1671.90,1373.6 L1674.24,1373.6 L1676.59,1373.6 L1678.93,1373.6 L1681.27,1373.6 L1683.62,1373.6 L1685.96,1373.6 L1688.31,1373.7 L1690.65,1373.7 L1693.00,1373.7 L1695.34,1373.7 L1697.68,1373.7 L1700.03,1373.7 L1702.37,1373.7 L1704.71,1373.8 L1707.06,1373.8 L1709.40,1373.8 L1711.74,1373.8 L1714.08,1373.8 L1716.43,1373.8 L1718.77,1373.9 L1721.11,1373.9 L1723.45,1373.9 L1725.80,1373.9 L1728.14,1373.9 L1730.48,1373.9 L1732.82,1374.0 L1735.16,1374.0 L1737.50,1374.0 L1739.84,1374.0"/>
<path stroke="#00b050" d="M215.23,44.3 L217.56,44.3 L219.88,44.3 L222.20,44.3 L224.53,44.3 L226.85,44.3 L229.18,44.3 L231.51,44.3 L233.84,44.3 L236.18,44.3 L238.51,44.3 L240.84,44.3 L243.18,44.4 L245.52,44.4 L247.86,44.4 L250.20,44.4 L252.54,44.4 L254.88,44.5 L257.22,44.5 L259.56,44.5 L261.91,44.6 L264.26,44.6 L266.60,44.6 L268.95,44.7 L271.30,44.7 L273.65,44.8 L276.00,44.8 L278.35,44.9 L280.70,44.9 L283.05,45.0 L285.41,45.0 L287.76,45.1 L290.12,45.1 L292.47,45.2 L294.83,45.2 L297.18,45.3 L299.54,45.3 L301.90,45.4 L304.26,45.5 L306.62,45.5 L308.97,45.6 L311.33,45.6 L313.69,45.7 L316.05,45.8 L318.41,45.8 L320.77,45.9 L323.14,46.0 L325.50,46.0 L327.86,46.1 L330.22,46.2 L332.58,46.2 L334.94,46.3 L337.31,46.4 L339.67,46.4 L342.03,46.5 L344.39,46.6 L346.75,46.6 L349.11,46.7 L351.48,46.8 L353.84,46.8 L356.20,46.9 L358.56,47.0 L360.92,47.0 L363.28,47.1 L365.64,47.2 L368.00,47.2 L370.36,47.3 L372.72,47.4 L375.08,47.4 L377.44,47.5 L379.80,47.6 L382.16,47.6 L384.52,47.7 L386.87,47.7 L389.23,47.8 L391.59,47.9 L393.94,47.9 L396.30,48.0 L398.65,48.0 L401.00,48.1 L403.36,48.1 L405.71,48.2 L408.06,48.2 L410.41,48.3 L412.76,48.3 L415.11,48.4 L417.46,48.4 L419.80,48.5 L422.15,48.5 L424.49,48.6 L426.84,48.6 L429.18,48.6 L431.52,48.7 L433.86,48.7 L436.20,48.7 L438.54,48.8 L440.88,48.8 L443.22,48.8 L445.55,48.8 L447.89,48.9 L450.22,48.9 L452.55,48.9 L454.88,48.9 L457.21,48.9 L459.53,48.9 L461.86,48.9 L464.18,48.9 L466.51,48.9 L468.83,48.9 L471.15,48.9 L473.47,48.9 L475.79,48.9 L478.10,48.9 L480.42,48.9 L482.74,48.9 L485.05,48.9 L487.37,49.0 L489.69,49.0 L492.00,49.0 L494.32,49.0 L496.63,49.1 L498.95,49.1 L501.27,49.2 L503.59,49.2 L505.90,49.3 L508.22,49.4 L510.55,49.5 L512.87,49.6 L515.19,49.7 L517.52,49.8 L519.84,50.0 L522.17,50.2 L524.50,50.3 L526.84,50.5 L529.17,50.8 L531.51,51.0 L533.85,51.2 L536.19,51.5 L538.53,51.8 L540.88,52.1 L543.23,52.5 L545.59,52.8 L547.94,53.2 L550.30,53.6 L552.67,54.0 L555.03,54.5 L557.40,55.0 L559.77,55.5 L562.13,56.0 L564.50,56.5 L566.86,57.1 L569.23,57.7 L571.59,58.4 L573.94,59.0 L576.29,59.7 L578.64,60.5 L580.98,61.2 L583.31,62.0 L585.64,62.8 L587.95,63.6 L590.26,64.5 L592.56,65.4 L594.85,66.3 L597.13,67.3 L599.39,68.3 L601.65,69.3 L603.89,70.3 L606.11,71.4 L608.32,72.5 L610.52,73.7 L612.69,74.9 L614.86,76.1 L617.00,77.4 L619.12,78.6 L621.23,80.0 L623.32,81.3 L625.38,82.7 L627.42,84.2 L629.45,85.6 L631.44,87.1 L633.42,88.7 L635.37,90.2 L637.29,91.9 L639.19,93.5 L641.07,95.2 L642.91,96.9 L644.73,98.7 L646.52,100.5 L648.28,102.3 L650.01,104.2 L651.72,106.1 L653.40,108.1 L655.06,110.1 L656.69,112.1 L658.29,114.2 L659.87,116.3 L661.42,118.4 L662.95,120.5 L664.45,122.7 L665.93,124.9 L667.39,127.2 L668.83,129.5 L670.24,131.8 L671.63,134.1 L673.00,136.5 L674.34,138.9 L675.67,141.3 L676.97,143.7 L678.26,146.2 L679.52,148.7 L680.76,151.2 L681.99,153.7 L683.19,156.3 L684.38,158.8 L685.55,161.4 L686.70,164.1 L687.83,166.7 L688.95,169.4 L690.04,172.0 L691.13,174.7 L692.19,177.4 L693.24,180.2 L694.27,182.9 L695.29,185.7 L696.30,188.4 L697.29,191.2 L698.26,194.0 L699.22,196.8 L700.17,199.6 L701.11,202.5 L702.03,205.3 L702.94,208.2 L703.84,211.0 L704.72,213.9 L705.60,216.8 L706.46,219.7 L707.31,222.5 L708.16,225.4 L708.99,228.3 L709.82,231.2 L710.63,234.2 L711.44,237.1 L712.23,240.0 L713.02,242.9 L713.81,245.8 L714.58,248.7 L715.35,251.6 L716.11,254.6 L716.86,257.5 L717.61,260.4 L718.35,263.3 L719.09,266.2 L719.82,269.1 L720.55,272.0 L721.28,274.9 L722.00,277.8 L722.71,280.6 L723.43,283.5 L724.14,286.4 L724.85,289.2 L725.55,292.1 L726.26,294.9 L726.96,297.7 L727.67,300.5 L728.37,303.3 L729.07,306.1 L729.76,308.9 L730.46,311.7 L731.16,314.5 L731.85,317.2 L732.54,320.0 L733.23,322.8 L733.92,325.5 L734.60,328.3 L735.29,331.0 L735.97,333.8 L736.65,336.6 L737.33,339.3 L738.00,342.1 L738.68,344.9 L739.35,347.7 L740.01,350.4 L740.68,353.2 L741.34,356.0 L742.00,358.9 L742.66,361.7 L743.31,364.5 L743.97,367.4 L744.61,370.2 L745.26,373.1 L745.90,376.0 L746.55,378.9 L747.19,381.8 L747.83,384.7 L748.48,387.7 L749.12,390.6 L749.77,393.6 L750.43,396.5 L751.09,399.4 L751.75,402.4 L752.43,405.3 L753.11,408.3 L753.79,411.2 L754.49,414.2 L755.20,417.1 L755.92,420.0 L756.65,422.9 L757.39,425.9 L758.15,428.8 L758.92,431.7 L759.70,434.5 L760.51,437.4 L761.33,440.2 L762.16,443.1 L763.02,445.9 L763.89,448.7 L764.79,451.5 L765.70,454.2 L766.64,457.0 L767.60,459.7 L768.57,462.4 L769.55,465.1 L770.54,467.8 L771.53,470.4 L772.52,473.1 L773.50,475.8 L774.48,478.5 L775.44,481.3 L776.39,484.0 L777.33,486.8 L778.26,489.6 L779.19,492.3 L780.14,495.1 L781.11,497.9 L782.10,500.6 L783.13,503.3 L784.20,505.9 L785.32,508.5 L786.51,511.1 L787.76,513.5 L789.08,515.9 L790.46,518.3 L791.89,520.6 L793.38,522.8 L794.92,525.0 L796.50,527.1 L798.11,529.2 L799.77,531.3 L801.45,533.4 L803.16,535.4 L804.89,537.4 L806.63,539.4 L808.39,541.4 L810.15,543.4 L811.92,545.3 L813.70,547.3 L815.49,549.3 L817.28,551.3 L819.08,553.2 L820.89,555.2 L822.70,557.1 L824.53,559.0 L826.36,561.0 L828.19,562.9 L830.04,564.8 L831.90,566.6 L833.76,568.5 L835.63,570.3 L837.51,572.1 L839.40,574.0 L841.30,575.7 L843.20,577.5 L845.11,579.3 L847.03,581.0 L848.96,582.7 L850.90,584.4 L852.84,586.1 L854.79,587.8 L856.75,589.4 L858.71,591.1 L860.69,592.7 L862.67,594.3 L864.65,595.9 L866.65,597.5 L868.65,599.1 L870.65,600.6 L872.67,602.1 L874.68,603.7 L876.71,605.2 L878.74,606.7 L880.78,608.1 L882.83,609.6 L884.88,611.0 L886.93,612.5 L889.00,613.9 L891.06,615.3 L893.14,616.7 L895.22,618.1 L897.30,619.4 L899.39,620.8 L901.48,622.1 L903.58,623.4 L905.69,624.8 L907.80,626.1 L909.91,627.4 L912.03,628.6 L914.16,629.9 L916.28,631.1 L918.42,632.4 L920.55,633.6 L922.70,634.8 L924.84,636.0 L926.99,637.2 L929.14,638.4 L931.30,639.6 L933.46,640.8 L935.63,641.9 L937.79,643.0 L939.97,644.2 L942.14,645.3 L944.32,646.4 L946.50,647.5 L948.68,648.6 L950.87,649.7 L953.06,650.7 L955.25,651.8 L957.45,652.8 L959.65,653.9 L961.85,654.9 L964.05,655.9 L966.26,657.0 L968.46,658.0 L970.67,659.0 L972.89,660.0 L975.10,660.9 L977.32,661.9 L979.53,662.9 L981.75,663.8 L983.98,664.8 L986.20,665.7 L988.43,666.7 L990.65,667.6 L992.88,668.5 L995.11,669.5 L997.34,670.4 L999.58,671.3 L1001.81,672.2 L1004.05,673.1 L1006.29,674.0 L1008.53,674.9 L1010.77,675.8 L1013.01,676.6 L1015.25,677.5 L1017.49,678.4 L1019.74,679.3 L1021.98,680.1 L1024.23,681.0 L1026.48,681.8 L1028.73,682.7 L1030.98,683.6 L1033.22,684.4 L1035.48,685.3 L1037.73,686.1 L1039.98,687.0 L1042.23,687.8 L1044.48,688.6 L1046.73,689.5 L1048.99,690.3 L1051.24,691.2 L1053.49,692.0 L1055.75,692.8 L1058.00,693.7 L1060.25,694.5 L1062.51,695.4 L1064.76,696.2 L1067.01,697.0 L1069.26,697.9 L1071.52,698.7 L1073.77,699.6 L1076.02,700.4 L1078.27,701.3 L1080.52,702.1 L1082.77,703.0 L1085.02,703.8 L1087.27,704.7 L1089.52,705.6 L1091.77,706.4 L1094.02,707.3 L1096.26,708.2 L1098.51,709.0 L1100.75,709.9 L1102.99,710.8 L1105.24,711.7 L1107.48,712.6 L1109.72,713.5 L1111.96,714.4 L1114.19,715.3 L1116.43,716.2 L1118.66,717.1 L1120.89,718.0 L1123.13,719.0 L1125.36,719.9 L1127.58,720.9 L1129.81,721.8 L1132.03,722.8 L1134.26,723.7 L1136.48,724.7 L1138.70,725.7 L1140.91,726.7 L1143.13,727.7 L1145.34,728.7 L1147.55,729.7 L1149.76,730.7 L1151.97,731.7 L1154.17,732.8 L1156.37,733.8 L1158.57,734.9 L1160.77,735.9 L1162.96,737.0 L1165.15,738.1 L1167.34,739.2 L1169.53,740.3 L1171.71,741.4 L1173.89,742.5 L1176.07,743.7 L1178.24,744.8 L1180.42,746.0 L1182.59,747.1 L1184.75,748.3 L1186.91,749.5 L1189.07,750.7 L1191.23,751.9 L1193.38,753.1 L1195.53,754.3 L1197.68,755.6 L1199.82,756.8 L1201.96,758.1 L1204.09,759.3 L1206.23,760.6 L1208.35,761.9 L1210.48,763.2 L1212.60,764.5 L1214.72,765.8 L1216.83,767.1 L1218.94,768.5 L1221.04,769.8 L1223.14,771.2 L1225.24,772.5 L1227.33,773.9 L1229.42,775.3 L1231.51,776.7 L1233.59,778.1 L1235.66,779.5 L1237.73,780.9 L1239.80,782.4 L1241.86,783.8 L1243.92,785.3 L1245.97,786.7 L1248.02,788.2 L1250.06,789.7 L1252.10,791.2 L1254.13,792.7 L1256.16,794.2 L1258.18,795.8 L1260.20,797.3 L1262.21,798.8 L1264.22,800.4 L1266.22,802.0 L1268.22,803.6 L1270.21,805.1 L1272.20,806.7 L1274.18,808.4 L1276.16,810.0 L1278.13,811.6 L1280.09,813.3 L1282.05,814.9 L1284.01,816.6 L1285.95,818.2 L1287.90,819.9 L1289.83,821.6 L1291.76,823.3 L1293.69,825.0 L1295.60,826.8 L1297.52,828.5 L1299.42,830.3 L1301.32,832.0 L1303.21,833.8 L1305.10,835.6 L1306.98,837.3 L1308.86,839.1 L1310.72,841.0 L1312.58,842.8 L1314.44,844.6 L1316.29,846.5 L1318.13,848.3 L1319.96,850.2 L1321.79,852.0 L1323.61,853.9 L1325.42,855.8 L1327.23,857.7 L1329.03,859.7 L1330.82,861.6 L1332.61,863.5 L1334.39,865.5 L1336.16,867.4 L1337.92,869.4 L1339.68,871.4 L1341.43,873.4 L1343.17,875.4 L1344.91,877.4 L1346.63,879.4 L1348.35,881.4 L1350.06,883.5 L1351.77,885.6 L1353.46,887.6 L1355.15,889.7 L1356.83,891.8 L1358.50,893.9 L1360.17,896.0 L1361.82,898.1 L1363.47,900.3 L1365.11,902.4 L1366.74,904.6 L1368.36,906.7 L1369.98,908.9 L1371.59,911.1 L1373.19,913.3 L1374.78,915.5 L1376.36,917.7 L1377.94,919.9 L1379.51,922.2 L1381.07,924.4 L1382.63,926.7 L1384.18,928.9 L1385.72,931.2 L1387.25,933.5 L1388.78,935.8 L1390.30,938.1 L1391.82,940.4 L1393.32,942.7 L1394.83,945.0 L1396.32,947.3 L1397.81,949.6 L1399.30,952.0 L1400.78,954.3 L1402.25,956.7 L1403.72,959.0 L1405.18,961.4 L1406.63,963.7 L1408.08,966.1 L1409.53,968.5 L1410.97,970.9 L1412.41,973.2 L1413.84,975.6 L1415.26,978.0 L1416.69,980.4 L1418.10,982.8 L1419.51,985.2 L1420.92,987.6 L1422.33,990.0 L1423.73,992.5 L1425.12,994.9 L1426.52,997.3 L1427.91,999.7 L1429.29,1002.1 L1430.67,1004.6 L1432.05,1007.0 L1433.43,1009.4 L1434.80,1011.8 L1436.17,1014.3 L1437.53,1016.7 L1438.90,1019.1 L1440.26,1021.5 L1441.61,1024.0 L1442.97,1026.4 L1443.57,1029.3 L1444.25,1032.3 L1445.01,1035.1 L1445.83,1037.9 L1446.72,1040.7 L1447.67,1043.5 L1448.67,1046.2 L1449.72,1048.9 L1450.82,1051.6 L1451.96,1054.2 L1453.14,1056.9 L1454.35,1059.5 L1455.58,1062.1 L1456.85,1064.6 L1458.13,1067.2 L1459.42,1069.7 L1460.73,1072.3 L1462.04,1074.8 L1463.36,1077.4 L1464.67,1079.9 L1465.98,1082.4 L1467.27,1085.0 L1468.56,1087.5 L1469.85,1090.1 L1471.12,1092.6 L1472.39,1095.2 L1473.66,1097.7 L1474.92,1100.3 L1476.17,1102.8 L1477.42,1105.4 L1478.66,1107.9 L1479.90,1110.5 L1481.13,1113.1 L1482.36,1115.6 L1483.59,1118.2 L1484.81,1120.8 L1486.03,1123.3 L1487.25,1125.9 L1488.46,1128.5 L1489.67,1131.0 L1490.89,1133.6 L1492.09,1136.2 L1493.30,1138.7 L1494.51,1141.3 L1495.72,1143.9 L1496.92,1146.4 L1498.13,1149.0 L1499.34,1151.6 L1500.54,1154.1 L1501.75,1156.7 L1502.96,1159.3 L1504.17,1161.8 L1505.38,1164.4 L1506.60,1167.0 L1507.81,1169.5 L1509.03,1172.1 L1510.25,1174.7 L1511.48,1177.2 L1512.71,1179.8 L1513.94,1182.4 L1515.18,1184.9 L1516.42,1187.5 L1517.67,1190.0 L1518.92,1192.6 L1520.18,1195.1 L1521.44,1197.7 L1522.71,1200.2 L1523.99,1202.8 L1525.27,1205.3 L1526.56,1207.9 L1527.85,1210.4 L1529.16,1213.0 L1530.47,1215.5 L1531.79,1218.0 L1533.12,1220.6 L1534.45,1223.1 L1535.80,1225.6 L1537.16,1228.1 L1538.52,1230.7 L1539.90,1233.2 L1541.28,1235.7 L1542.68,1238.2 L1544.08,1240.7 L1545.50,1243.2 L1546.93,1245.6 L1548.37,1248.1 L1549.83,1250.6 L1551.29,1253.0 L1552.77,1255.4 L1554.27,1257.8 L1555.77,1260.2 L1557.29,1262.6 L1558.83,1265.0 L1560.38,1267.3 L1561.94,1269.6 L1563.52,1271.9 L1565.11,1274.1 L1566.73,1276.4 L1568.35,1278.6 L1570.00,1280.7 L1571.66,1282.9 L1573.33,1285.0 L1575.03,1287.1 L1576.74,1289.1 L1578.47,1291.1 L1580.22,1293.1 L1581.99,1295.1 L1583.78,1297.0 L1585.59,1298.8 L1587.42,1300.6 L1589.26,1302.4 L1591.13,1304.1 L1593.02,1305.8 L1594.93,1307.5 L1596.86,1309.1 L1598.82,1310.6 L1600.79,1312.1 L1602.79,1313.5 L1604.81,1314.9 L1606.86,1316.3 L1608.92,1317.5 L1611.02,1318.8 L1613.13,1319.9 L1615.27,1321.0 L1617.43,1322.1 L1619.62,1323.1 L1621.82,1324.1 L1624.05,1324.9 L1626.29,1325.8 L1628.55,1326.6 L1630.84,1327.3 L1633.13,1328.0 L1635.45,1328.7 L1637.77,1329.3 L1640.12,1329.9 L1642.47,1330.4 L1644.84,1330.9 L1647.22,1331.4 L1649.61,1331.8 L1652.01,1332.2 L1654.42,1332.6 L1656.84,1332.9 L1659.26,1333.2 L1661.69,1333.4 L1664.13,1333.7 L1666.57,1333.9 L1669.02,1334.1 L1671.47,1334.2 L1673.92,1334.4 L1676.37,1334.5 L1678.82,1334.6 L1681.27,1334.7 L1683.72,1334.7 L1686.17,1334.8 L1688.61,1334.8 L1691.05,1334.9 L1693.49,1334.9 L1695.92,1334.9 L1698.34,1334.9 L1700.75,1334.9 L1703.16,1334.9 L1705.56,1334.9 L1707.95,1334.9 L1710.32,1334.9 L1712.69,1334.9 L1715.04,1334.9 L1717.38,1334.9 L1719.71,1334.9 L1722.02,1334.9 L1724.31,1334.9 L1726.59,1334.9 L1728.85,1334.9 L1731.09,1334.9 L1733.31,1334.9 L1735.51,1334.9 L1737.69,1334.9 L1739.84,1335.0"/>
<path stroke="#000000" d="M215.23,49.8 L217.59,50.0 L219.94,50.2 L222.29,50.5 L224.65,50.7 L227.00,50.9 L229.35,51.1 L231.70,51.3 L234.06,51.4 L236.41,51.6 L238.76,51.8 L241.11,51.9 L243.46,52.1 L245.81,52.2 L248.16,52.4 L250.51,52.5 L252.86,52.7 L255.21,52.8 L257.56,52.9 L259.91,53.0 L262.26,53.1 L264.61,53.3 L266.96,53.4 L269.31,53.5 L271.66,53.6 L274.01,53.6 L276.36,53.7 L278.71,53.8 L281.05,53.9 L283.40,54.0 L285.75,54.0 L288.10,54.1 L290.44,54.2 L292.79,54.2 L295.14,54.3 L297.49,54.4 L299.83,54.4 L302.18,54.5 L304.53,54.5 L306.87,54.6 L309.22,54.6 L311.57,54.7 L313.91,54.7 L316.26,54.8 L318.60,54.8 L320.95,54.8 L323.30,54.9 L325.64,54.9 L327.99,54.9 L330.33,55.0 L332.68,55.0 L335.02,55.1 L337.37,55.1 L339.71,55.1 L342.06,55.2 L344.40,55.2 L346.75,55.2 L349.09,55.3 L351.43,55.3 L353.78,55.3 L356.12,55.4 L358.47,55.4 L360.81,55.4 L363.15,55.5 L365.50,55.5 L367.84,55.6 L370.18,55.6 L372.53,55.7 L374.87,55.7 L377.21,55.8 L379.56,55.8 L381.90,55.9 L384.24,55.9 L386.59,56.0 L388.93,56.1 L391.27,56.1 L393.61,56.2 L395.96,56.3 L398.30,56.4 L400.64,56.4 L402.98,56.5 L405.33,56.6 L407.67,56.7 L410.01,56.8 L412.35,56.9 L414.70,57.0 L417.04,57.1 L419.38,57.2 L421.72,57.3 L424.06,57.5 L426.41,57.6 L428.75,57.7 L431.09,57.9 L433.43,58.0 L435.77,58.2 L438.11,58.3 L440.46,58.5 L442.80,58.7 L445.14,58.8 L447.48,59.0 L449.82,59.2 L452.16,59.4 L454.51,59.6 L456.85,59.8 L459.19,60.0 L461.53,60.2 L463.87,60.5 L466.21,60.7 L468.55,61.0 L470.90,61.2 L473.24,61.5 L475.58,61.7 L477.92,62.0 L480.26,62.3 L482.60,62.6 L484.94,62.9 L487.29,63.2 L489.63,63.5 L491.97,63.9 L494.31,64.2 L496.65,64.6 L498.99,64.9 L501.33,65.3 L503.68,65.7 L506.02,66.1 L508.36,66.5 L510.70,66.9 L513.04,67.3 L515.38,67.7 L517.72,68.2 L520.06,68.6 L522.40,69.1 L524.73,69.6 L527.07,70.1 L529.40,70.6 L531.73,71.1 L534.06,71.6 L536.38,72.2 L538.70,72.7 L541.02,73.3 L543.33,73.9 L545.65,74.5 L547.95,75.2 L550.25,75.8 L552.55,76.5 L554.84,77.2 L557.13,77.9 L559.41,78.6 L561.69,79.4 L563.96,80.2 L566.23,81.0 L568.48,81.8 L570.74,82.6 L572.98,83.5 L575.22,84.4 L577.45,85.3 L579.67,86.2 L581.89,87.2 L584.09,88.1 L586.29,89.2 L588.48,90.2 L590.66,91.2 L592.83,92.3 L595.00,93.4 L597.15,94.6 L599.29,95.8 L601.43,97.0 L603.55,98.2 L605.66,99.4 L607.76,100.7 L609.85,102.1 L611.93,103.4 L614.00,104.8 L616.05,106.2 L618.09,107.6 L620.12,109.1 L622.14,110.6 L624.15,112.2 L626.14,113.8 L628.12,115.4 L630.08,117.0 L632.03,118.7 L633.96,120.4 L635.88,122.1 L637.78,123.9 L639.67,125.7 L641.54,127.5 L643.40,129.3 L645.24,131.2 L647.06,133.1 L648.86,135.1 L650.64,137.0 L652.41,139.0 L654.16,141.0 L655.89,143.1 L657.59,145.2 L659.28,147.3 L660.95,149.4 L662.60,151.5 L664.23,153.7 L665.83,155.9 L667.42,158.2 L668.98,160.4 L670.52,162.7 L672.04,165.0 L673.54,167.3 L675.01,169.7 L676.46,172.0 L677.88,174.4 L679.28,176.8 L680.65,179.3 L682.00,181.7 L683.33,184.2 L684.63,186.7 L685.90,189.2 L687.15,191.8 L688.37,194.3 L689.57,196.9 L690.75,199.5 L691.91,202.1 L693.05,204.7 L694.17,207.4 L695.27,210.0 L696.36,212.7 L697.43,215.4 L698.49,218.1 L699.53,220.8 L700.56,223.5 L701.58,226.2 L702.60,228.9 L703.60,231.6 L704.59,234.3 L705.58,237.1 L706.56,239.8 L707.53,242.6 L708.50,245.3 L709.46,248.0 L710.41,250.8 L711.35,253.6 L712.29,256.3 L713.22,259.1 L714.14,261.8 L715.06,264.6 L715.97,267.4 L716.87,270.2 L717.77,273.0 L718.66,275.7 L719.55,278.5 L720.43,281.3 L721.31,284.1 L722.18,286.9 L723.04,289.7 L723.90,292.5 L724.76,295.3 L725.61,298.1 L726.45,300.9 L727.29,303.7 L728.13,306.5 L728.96,309.3 L729.79,312.1 L730.61,314.9 L731.42,317.8 L732.24,320.6 L733.05,323.4 L733.85,326.2 L734.65,329.0 L735.44,331.9 L736.23,334.7 L737.02,337.5 L737.80,340.4 L738.58,343.2 L739.35,346.0 L740.12,348.9 L740.89,351.7 L741.65,354.5 L742.41,357.4 L743.16,360.2 L743.91,363.1 L744.66,365.9 L745.40,368.8 L746.14,371.6 L746.87,374.4 L747.60,377.3 L748.33,380.2 L749.05,383.0 L749.77,385.9 L750.48,388.7 L751.19,391.6 L751.90,394.4 L752.61,397.3 L753.31,400.2 L754.01,403.0 L754.70,405.9 L755.39,408.8 L756.08,411.6 L756.77,414.5 L757.45,417.4 L758.13,420.2 L758.80,423.1 L759.47,426.0 L760.14,428.9 L760.81,431.7 L761.47,434.6 L762.13,437.5 L762.79,440.4 L763.44,443.3 L764.09,446.2 L764.74,449.0 L765.39,451.9 L766.03,454.8 L766.67,457.7 L767.31,460.6 L767.94,463.5 L768.58,466.4 L769.21,469.3 L769.83,472.2 L770.46,475.0 L771.08,477.9 L771.70,480.8 L772.32,483.7 L772.93,486.6 L773.55,489.5 L774.16,492.4 L774.77,495.3 L775.37,498.2 L775.98,501.1 L776.58,504.0 L777.18,506.9 L777.78,509.9 L778.38,512.8 L778.97,515.7 L779.56,518.6 L780.15,521.5 L780.74,524.4 L781.33,527.3 L781.92,530.2 L782.50,533.1 L783.08,536.0 L783.66,538.9 L784.24,541.9 L784.82,544.8 L785.40,547.7 L785.97,550.6 L786.54,553.5 L787.11,556.4 L787.68,559.3 L788.25,562.3 L788.82,565.2 L789.39,568.1 L789.95,571.0 L790.52,573.9 L791.08,576.9 L791.64,579.8 L792.20,582.7 L792.76,585.6 L793.32,588.5 L793.88,591.5 L794.44,594.4 L794.99,597.3 L795.55,600.2 L796.10,603.1 L796.66,606.1 L797.21,609.0 L797.76,611.9 L798.31,614.8 L798.86,617.8 L799.42,620.7 L799.97,623.6 L800.52,626.5 L801.07,629.5 L801.61,632.4 L802.16,635.3 L802.71,638.2 L803.26,641.2 L803.81,644.1 L804.35,647.0 L804.90,649.9 L805.45,652.9 L806.00,655.8 L806.54,658.7 L807.09,661.6 L807.64,664.6 L808.18,667.5 L808.73,670.4 L809.28,673.3 L809.83,676.3 L810.38,679.2 L810.92,682.1 L811.47,685.0 L812.02,688.0 L812.57,690.9 L813.12,693.8 L813.67,696.7 L814.22,699.7 L814.77,702.6 L815.32,705.5 L815.87,708.4 L816.43,711.4 L816.98,714.3 L817.53,717.2 L818.09,720.1 L818.65,723.0 L819.20,726.0 L819.76,728.9 L820.32,731.8 L820.88,734.7 L821.44,737.7 L822.00,740.6 L822.56,743.5 L823.13,746.4 L823.69,749.3 L824.26,752.2 L824.82,755.2 L825.39,758.1 L825.96,761.0 L826.53,763.9 L827.10,766.8 L827.68,769.7 L828.25,772.7 L828.83,775.6 L829.41,778.5 L829.99,781.4 L830.57,784.3 L831.15,787.2 L831.74,790.1 L832.32,793.0 L832.91,795.9 L833.50,798.8 L834.09,801.8 L834.68,804.7 L835.28,807.6 L835.87,810.5 L836.47,813.4 L837.07,816.3 L837.67,819.2 L838.27,822.1 L838.87,825.0 L839.48,827.9 L840.08,830.8 L840.69,833.7 L841.30,836.6 L841.90,839.5 L842.51,842.4 L843.12,845.3 L843.74,848.2 L844.35,851.1 L844.96,854.0 L845.57,856.9 L846.19,859.8 L846.81,862.7 L847.42,865.6 L848.04,868.5 L848.66,871.4 L849.27,874.3 L849.89,877.2 L850.51,880.1 L851.13,883.0 L851.75,885.9 L852.37,888.8 L852.99,891.6 L853.61,894.5 L854.24,897.4 L854.86,900.3 L855.48,903.2 L856.10,906.1 L856.72,909.0 L857.35,911.9 L857.97,914.8 L858.59,917.7 L859.21,920.6 L859.84,923.5 L860.46,926.4 L861.08,929.3 L861.70,932.2 L862.33,935.1 L862.95,938.0 L863.57,940.9 L864.19,943.8 L864.81,946.7 L865.43,949.6 L866.05,952.5 L866.67,955.4 L867.29,958.3 L867.91,961.2 L868.52,964.1 L869.14,967.0 L869.77,969.9 L870.39,972.8 L871.01,975.7 L871.64,978.6 L872.27,981.4 L872.90,984.3 L873.54,987.2 L874.18,990.1 L874.83,993.0 L875.48,995.9 L876.13,998.8 L876.80,1001.7 L877.46,1004.6 L878.14,1007.4 L878.82,1010.3 L879.51,1013.2 L880.20,1016.1 L880.91,1018.9 L881.62,1021.8 L882.34,1024.7 L883.07,1027.5 L883.82,1030.4 L884.57,1033.2 L885.33,1036.1 L886.10,1038.9 L886.89,1041.8 L887.68,1044.6 L888.49,1047.4 L889.32,1050.2 L890.16,1053.1 L891.02,1055.9 L891.89,1058.7 L892.79,1061.4 L893.70,1064.2 L894.64,1067.0 L895.60,1069.7 L896.58,1072.5 L897.59,1075.2 L898.62,1077.9 L899.68,1080.6 L900.77,1083.3 L901.89,1085.9 L903.04,1088.5 L904.21,1091.2 L905.41,1093.7 L906.64,1096.3 L907.90,1098.9 L909.19,1101.4 L910.51,1103.9 L911.85,1106.4 L913.22,1108.8 L914.62,1111.2 L916.05,1113.6 L917.50,1116.0 L918.98,1118.3 L920.49,1120.6 L922.02,1122.9 L923.58,1125.1 L925.17,1127.3 L926.78,1129.5 L928.42,1131.6 L930.08,1133.7 L931.77,1135.8 L933.49,1137.8 L935.23,1139.8 L937.00,1141.7 L938.79,1143.7 L940.61,1145.5 L942.45,1147.3 L944.32,1149.1 L946.21,1150.9 L948.13,1152.5 L950.07,1154.2 L952.03,1155.8 L954.02,1157.4 L956.02,1158.9 L958.05,1160.4 L960.09,1161.8 L962.15,1163.3 L964.23,1164.6 L966.32,1166.0 L968.43,1167.3 L970.55,1168.6 L972.69,1169.9 L974.84,1171.1 L977.00,1172.3 L979.17,1173.5 L981.35,1174.6 L983.54,1175.8 L985.74,1176.9 L987.94,1178.0 L990.15,1179.1 L992.37,1180.1 L994.58,1181.2 L996.81,1182.2 L999.03,1183.2 L1001.26,1184.2 L1003.48,1185.2 L1005.72,1186.2 L1007.95,1187.2 L1010.18,1188.2 L1012.42,1189.1 L1014.66,1190.0 L1016.90,1191.0 L1019.15,1191.9 L1021.39,1192.8 L1023.64,1193.7 L1025.89,1194.5 L1028.14,1195.4 L1030.40,1196.3 L1032.65,1197.1 L1034.91,1197.9 L1037.17,1198.8 L1039.43,1199.6 L1041.70,1200.4 L1043.96,1201.2 L1046.23,1202.0 L1048.50,1202.7 L1050.77,1203.5 L1053.04,1204.3 L1055.31,1205.0 L1057.59,1205.8 L1059.86,1206.5 L1062.14,1207.2 L1064.42,1207.9 L1066.70,1208.7 L1068.98,1209.4 L1071.27,1210.1 L1073.55,1210.7 L1075.84,1211.4 L1078.12,1212.1 L1080.41,1212.8 L1082.70,1213.4 L1084.99,1214.1 L1087.28,1214.7 L1089.58,1215.4 L1091.87,1216.0 L1094.17,1216.7 L1096.46,1217.3 L1098.76,1217.9 L1101.06,1218.5 L1103.35,1219.1 L1105.65,1219.7 L1107.95,1220.3 L1110.26,1220.9 L1112.56,1221.5 L1114.86,1222.1 L1117.16,1222.7 L1119.47,1223.3 L1121.77,1223.9 L1124.08,1224.4 L1126.38,1225.0 L1128.69,1225.6 L1130.99,1226.2 L1133.30,1226.7 L1135.61,1227.3 L1137.92,1227.8 L1140.22,1228.4 L1142.53,1229.0 L1144.84,1229.5 L1147.15,1230.1 L1149.46,1230.6 L1151.77,1231.2 L1154.08,1231.7 L1156.39,1232.3 L1158.70,1232.8 L1161.01,1233.4 L1163.32,1233.9 L1165.63,1234.5 L1167.94,1235.0 L1170.25,1235.6 L1172.56,1236.1 L1174.86,1236.7 L1177.17,1237.2 L1179.48,1237.8 L1181.79,1238.3 L1184.10,1238.9 L1186.41,1239.4 L1188.72,1240.0 L1191.02,1240.5 L1193.33,1241.1 L1195.64,1241.7 L1197.94,1242.2 L1200.25,1242.8 L1202.55,1243.4 L1204.86,1243.9 L1207.16,1244.5 L1209.47,1245.1 L1211.77,1245.6 L1214.08,1246.2 L1216.38,1246.8 L1218.68,1247.4 L1220.98,1248.0 L1223.29,1248.6 L1225.59,1249.1 L1227.89,1249.7 L1230.19,1250.3 L1232.49,1250.9 L1234.79,1251.5 L1237.09,1252.1 L1239.39,1252.7 L1241.69,1253.3 L1243.99,1253.9 L1246.29,1254.5 L1248.58,1255.2 L1250.88,1255.8 L1253.18,1256.4 L1255.48,1257.0 L1257.77,1257.6 L1260.07,1258.3 L1262.36,1258.9 L1264.66,1259.5 L1266.95,1260.1 L1269.25,1260.8 L1271.54,1261.4 L1273.84,1262.0 L1276.13,1262.7 L1278.42,1263.3 L1280.71,1264.0 L1283.01,1264.6 L1285.30,1265.3 L1287.59,1265.9 L1289.88,1266.6 L1292.17,1267.2 L1294.46,1267.9 L1296.75,1268.6 L1299.04,1269.2 L1301.33,1269.9 L1303.62,1270.6 L1305.90,1271.3 L1308.19,1271.9 L1310.48,1272.6 L1312.77,1273.3 L1315.05,1274.0 L1317.34,1274.7 L1319.62,1275.4 L1321.91,1276.1 L1324.19,1276.8 L1326.48,1277.5 L1328.76,1278.2 L1331.04,1278.9 L1333.33,1279.6 L1335.61,1280.3 L1337.89,1281.1 L1340.17,1281.8 L1342.46,1282.5 L1344.74,1283.2 L1347.02,1284.0 L1349.30,1284.7 L1351.58,1285.4 L1353.86,1286.2 L1356.14,1286.9 L1358.41,1287.7 L1360.69,1288.4 L1362.97,1289.2 L1365.25,1289.9 L1367.52,1290.7 L1369.80,1291.5 L1372.08,1292.2 L1374.35,1293.0 L1376.63,1293.8 L1378.91,1294.5 L1381.18,1295.3 L1383.46,1296.0 L1385.74,1296.8 L1388.01,1297.6 L1390.29,1298.3 L1392.57,1299.1 L1394.85,1299.8 L1397.13,1300.6 L1399.40,1301.3 L1401.68,1302.1 L1403.96,1302.8 L1406.24,1303.6 L1408.52,1304.3 L1410.81,1305.0 L1413.09,1305.7 L1415.37,1306.5 L1417.66,1307.2 L1419.94,1307.9 L1422.23,1308.6 L1424.52,1309.2 L1426.80,1309.9 L1429.09,1310.6 L1431.38,1311.2 L1433.68,1311.9 L1435.97,1312.5 L1438.26,1313.2 L1440.56,1313.8 L1442.86,1314.4 L1445.16,1315.0 L1447.46,1315.6 L1449.76,1316.2 L1452.06,1316.7 L1454.36,1317.3 L1456.67,1317.9 L1458.97,1318.4 L1461.28,1318.9 L1463.59,1319.5 L1465.90,1320.0 L1468.21,1320.5 L1470.52,1321.0 L1472.84,1321.5 L1475.15,1321.9 L1477.47,1322.4 L1479.78,1322.9 L1482.10,1323.3 L1484.42,1323.8 L1486.74,1324.2 L1489.06,1324.6 L1491.38,1325.1 L1493.70,1325.5 L1496.02,1325.9 L1498.35,1326.3 L1500.67,1326.7 L1503.00,1327.1 L1505.33,1327.4 L1507.66,1327.8 L1509.98,1328.2 L1512.31,1328.5 L1514.64,1328.9 L1516.98,1329.2 L1519.31,1329.5 L1521.64,1329.8 L1523.97,1330.2 L1526.31,1330.5 L1528.64,1330.8 L1530.98,1331.1 L1533.32,1331.4 L1535.65,1331.7 L1537.99,1331.9 L1540.33,1332.2 L1542.67,1332.5 L1545.01,1332.7 L1547.35,1333.0 L1549.69,1333.2 L1552.03,1333.5 L1554.37,1333.7 L1556.72,1334.0 L1559.06,1334.2 L1561.40,1334.4 L1563.75,1334.6 L1566.09,1334.8 L1568.44,1335.0 L1570.78,1335.2 L1573.13,1335.4 L1575.48,1335.6 L1577.82,1335.8 L1580.17,1336.0 L1582.52,1336.2 L1584.87,1336.4 L1587.22,1336.5 L1589.56,1336.7 L1591.91,1336.9 L1594.26,1337.0 L1596.61,1337.2 L1598.96,1337.3 L1601.31,1337.5 L1603.66,1337.6 L1606.01,1337.7 L1608.36,1337.9 L1610.72,1338.0 L1613.07,1338.1 L1615.42,1338.3 L1617.77,1338.4 L1620.12,1338.5 L1622.47,1338.6 L1624.82,1338.7 L1627.18,1338.8 L1629.53,1339.0 L1631.88,1339.1 L1634.23,1339.2 L1636.58,1339.3 L1638.94,1339.4 L1641.29,1339.5 L1643.64,1339.6 L1645.99,1339.6 L1648.34,1339.7 L1650.70,1339.8 L1653.05,1339.9 L1655.40,1340.0 L1657.75,1340.1 L1660.10,1340.2 L1662.45,1340.2 L1664.80,1340.3 L1667.15,1340.4 L1669.50,1340.5 L1671.86,1340.6 L1674.21,1340.6 L1676.56,1340.7 L1678.90,1340.8 L1681.25,1340.9 L1683.60,1340.9 L1685.95,1341.0 L1688.30,1341.1 L1690.65,1341.2 L1692.99,1341.2 L1695.34,1341.3 L1697.69,1341.4 L1700.04,1341.4 L1702.38,1341.5 L1704.73,1341.6 L1707.07,1341.7 L1709.42,1341.7 L1711.76,1341.8 L1714.10,1341.9 L1716.45,1342.0 L1718.79,1342.0 L1721.13,1342.1 L1723.47,1342.2 L1725.81,1342.3 L1728.15,1342.4 L1730.49,1342.5 L1732.83,1342.5 L1735.17,1342.6 L1737.51,1342.7 L1739.84,1342.8"/>
</g>
<g font-family="Liberation Sans, Arial, sans-serif" fill="#000" font-size="64">
<text transform="translate(213.5,1406.9) scale(0.9850,1)" text-anchor="end" font-size="64.5" stroke="#000" stroke-width="0.5">0</text>
<text transform="translate(213.5,1137.8) scale(0.9850,1)" text-anchor="end" font-size="64.5" stroke="#000" stroke-width="0.5">20</text>
<text transform="translate(213.5,868.7) scale(0.9850,1)" text-anchor="end" font-size="64.5" stroke="#000" stroke-width="0.5">40</text>
<text transform="translate(213.5,599.6) scale(0.9850,1)" text-anchor="end" font-size="64.5" stroke="#000" stroke-width="0.5">60</text>
<text transform="translate(213.5,330.5) scale(0.9850,1)" text-anchor="end" font-size="64.5" stroke="#000" stroke-width="0.5">80</text>
<text transform="translate(213.5,61.4) scale(0.9850,1)" text-anchor="end" font-size="64.5" stroke="#000" stroke-width="0.5">100</text>
<text transform="translate(278.0,1495.4) scale(0.9850,1)" text-anchor="middle" font-size="64.5" stroke="#000" stroke-width="0.5">250</text>
<text transform="translate(667.3,1495.4) scale(0.9850,1)" text-anchor="middle" font-size="64.5" stroke="#000" stroke-width="0.5">300</text>
<text transform="translate(1056.6,1495.4) scale(0.9850,1)" text-anchor="middle" font-size="64.5" stroke="#000" stroke-width="0.5">350</text>
<text transform="translate(1445.9,1495.4) scale(0.9850,1)" text-anchor="middle" font-size="64.5" stroke="#000" stroke-width="0.5">400</text>
<text transform="translate(1835.2,1495.4) scale(0.9850,1)" text-anchor="middle" font-size="64.5" stroke="#000" stroke-width="0.5">450</text>
<text transform="translate(2224.5,1495.4) scale(0.9850,1)" text-anchor="middle" font-size="64.5" stroke="#000" stroke-width="0.5">500</text>
<text stroke="#000" stroke-width="0.5" stroke-linejoin="miter"><tspan x="1231.54" y="579.1" font-size="64" textLength="104.34" lengthAdjust="spacingAndGlyphs">PLA</tspan><tspan x="1338.66" y="586.5" font-size="76">/</tspan><tspan x="1363.70" y="579.1" font-size="64" textLength="91.49" lengthAdjust="spacingAndGlyphs">PA </tspan><tspan x="1453.30" y="579.1" font-size="64" textLength="69.30" lengthAdjust="spacingAndGlyphs">50</tspan><tspan x="1524.96" y="586.5" font-size="76">/</tspan><tspan x="1550.23" y="579.1" font-size="64" textLength="68.25" lengthAdjust="spacingAndGlyphs">50</tspan></text>
<text stroke="#000" stroke-width="0.5" stroke-linejoin="miter"><tspan x="1256.43" y="1099.1" font-size="64" textLength="104.45" lengthAdjust="spacingAndGlyphs">PLA</tspan><tspan x="1364.16" y="1106.5" font-size="76">/</tspan><tspan x="1389.66" y="1099.1" font-size="64" textLength="90.32" lengthAdjust="spacingAndGlyphs">PA </tspan><tspan x="1478.34" y="1099.1" font-size="64" textLength="69.16" lengthAdjust="spacingAndGlyphs">90</tspan><tspan x="1550.36" y="1106.5" font-size="76">/</tspan><tspan x="1577.28" y="1099.1" font-size="64" textLength="67.07" lengthAdjust="spacingAndGlyphs">10</tspan></text>
<text stroke="#000" stroke-width="0.5" stroke-linejoin="miter"><tspan x="779.86" y="792.6" font-size="64" textLength="103.72" lengthAdjust="spacingAndGlyphs">PLA</tspan></text>
<text stroke="#000" stroke-width="0.5" stroke-linejoin="miter"><tspan x="1775.89" y="277.5" font-size="64" textLength="75.06" lengthAdjust="spacingAndGlyphs">PA</tspan></text>
<text font-weight="bold" stroke="#000" stroke-width="1.5" stroke-linejoin="miter"><tspan x="1160.05" y="1600.5" font-size="75.5" textLength="56.44" lengthAdjust="spacingAndGlyphs">T </tspan><tspan x="1220.57" y="1598.1" font-size="74.1" textLength="19.74" lengthAdjust="spacingAndGlyphs">(</tspan><tspan x="1247.00" y="1590.9" font-size="65" textLength="26.20" lengthAdjust="spacingAndGlyphs">°</tspan><tspan x="1275.58" y="1600.8" font-size="75.5" textLength="40.95" lengthAdjust="spacingAndGlyphs">C</tspan><tspan x="1321.55" y="1598.1" font-size="74.1" textLength="18.96" lengthAdjust="spacingAndGlyphs">)</tspan></text>
<text font-weight="bold" stroke="#000" stroke-width="1.5" stroke-linejoin="miter" transform="rotate(-90)"><tspan x="-805.51" y="76.5" font-size="76" textLength="76.84" lengthAdjust="spacingAndGlyphs">w </tspan><tspan x="-725.82" y="73.7" font-size="76.7" textLength="18.96" lengthAdjust="spacingAndGlyphs">(</tspan><tspan x="-700.04" y="76.4" font-size="77.7" textLength="56.29" lengthAdjust="spacingAndGlyphs">%</tspan><tspan x="-638.15" y="73.7" font-size="76.7" textLength="17.39" lengthAdjust="spacingAndGlyphs">)</tspan></text>
</g>
</svg>
</body>
</html>
